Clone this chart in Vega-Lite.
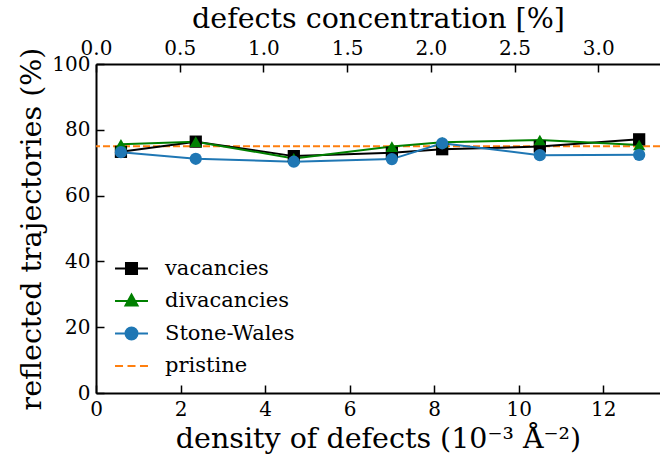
{
  "$schema": "https://vega.github.io/schema/vega-lite/v6.json",
  "width": 564,
  "height": 329,
  "autosize": {"type": "none"},
  "padding": {"left": 96, "top": 64, "right": 0, "bottom": 69},
  "background": "white",
  "config": {
    "view": {"stroke": null},
    "font": "DejaVu Serif",
    "axis": {
      "grid": false,
      "domainColor": "black",
      "domainWidth": 2,
      "tickColor": "black",
      "tickWidth": 1.5,
      "tickSize": -8,
      "labelFont": "DejaVu Serif",
      "labelFontSize": 20,
      "labelColor": "black",
      "labelPadding": 14,
      "labelFlush": false,
      "labelOverlap": false,
      "titleFont": "DejaVu Serif",
      "titleFontSize": 28.5,
      "titleFontWeight": "normal",
      "titleColor": "black",
      "titlePadding": 5
    }
  },
  "datasets": {
    "main": [
      {"series": "vacancies", "density": 0.59, "refl": 73.3},
      {"series": "vacancies", "density": 2.36, "refl": 76.4},
      {"series": "vacancies", "density": 4.68, "refl": 72.0},
      {"series": "vacancies", "density": 7.0, "refl": 73.0},
      {"series": "vacancies", "density": 8.19, "refl": 74.1},
      {"series": "vacancies", "density": 10.5, "refl": 74.9},
      {"series": "vacancies", "density": 12.85, "refl": 77.1},
      {"series": "divacancies", "density": 0.59, "refl": 75.6},
      {"series": "divacancies", "density": 2.36, "refl": 76.4},
      {"series": "divacancies", "density": 4.68, "refl": 71.3},
      {"series": "divacancies", "density": 7.0, "refl": 74.9},
      {"series": "divacancies", "density": 8.19, "refl": 76.2},
      {"series": "divacancies", "density": 10.5, "refl": 76.9},
      {"series": "divacancies", "density": 12.85, "refl": 75.4},
      {"series": "Stone-Wales", "density": 0.59, "refl": 73.2},
      {"series": "Stone-Wales", "density": 2.36, "refl": 71.2},
      {"series": "Stone-Wales", "density": 4.68, "refl": 70.3},
      {"series": "Stone-Wales", "density": 7.0, "refl": 71.1},
      {"series": "Stone-Wales", "density": 8.19, "refl": 75.9},
      {"series": "Stone-Wales", "density": 10.5, "refl": 72.3},
      {"series": "Stone-Wales", "density": 12.85, "refl": 72.4}
    ],
    "pristine": [{"series": "pristine", "refl": 75.0}],
    "conc": [{"conc": 0}, {"conc": 3.369}]
  },
  "layer": [
    {
      "data": {"name": "main"},
      "encoding": {
        "x": {
          "field": "density",
          "type": "quantitative",
          "scale": {"domain": [0, 13.343], "nice": false, "zero": false},
          "axis": {
            "orient": "bottom",
            "values": [0, 2, 4, 6, 8, 10, 12],
            "title": "density of defects (10⁻³ Å⁻²)"
          }
        },
        "y": {
          "field": "refl",
          "type": "quantitative",
          "scale": {"domain": [0, 100], "nice": false},
          "axis": {
            "values": [0, 20, 40, 60, 80, 100],
            "title": "reflected trajectories (%)"
          }
        },
        "color": {
          "field": "series",
          "type": "nominal",
          "scale": {
            "domain": ["vacancies", "divacancies", "Stone-Wales", "pristine"],
            "range": ["#000000", "#008000", "#1f77b4", "#ff7f0e"]
          },
          "legend": {
            "orient": "none",
            "legendX": 25,
            "legendY": 194,
            "title": null,
            "padding": 0,
            "labelFont": "DejaVu Serif",
            "labelFontSize": 21,
            "labelColor": "black",
            "symbolSize": 256,
            "labelOffset": 23,
            "rowPadding": 10.5,
            "symbolStrokeWidth": 2,
            "encode": {
              "symbols": {
                "update": {
                  "shape": {"signal": "datum.value === 'vacancies' ? 'M-2.06,0H2.06M-0.69,-0.69H0.69V0.69H-0.69Z' : datum.value === 'divacancies' ? 'M-2.06,0H2.06M0,-0.8L0.75,0.55H-0.75Z' : datum.value === 'Stone-Wales' ? 'M-2.06,0H2.06M-0.75,0A0.75,0.75,0,1,0,0.75,0A0.75,0.75,0,1,0,-0.75,0Z' : 'M-2.06,0H-1.06M-0.5,0H0.5M1.06,0H2.06'"},
                  "fill": {"signal": "datum.value === 'vacancies' ? '#000000' : datum.value === 'divacancies' ? '#008000' : datum.value === 'Stone-Wales' ? '#1f77b4' : 'transparent'"},
                  "stroke": {"signal": "datum.value === 'vacancies' ? '#000000' : datum.value === 'divacancies' ? '#008000' : datum.value === 'Stone-Wales' ? '#1f77b4' : '#ff7f0e'"},
                  "strokeWidth": {"value": 2},
                  "opacity": {"value": 1},
                  "fillOpacity": {"value": 1}
                }
              }
            }
          }
        }
      },
      "layer": [
        {
          "data": {"name": "pristine"},
          "mark": {"type": "rule", "strokeWidth": 2, "strokeDash": [7, 3]},
          "encoding": {"x": null}
        },
        {
          "mark": {"type": "line", "strokeWidth": 2}
        },
        {
          "mark": {"type": "point", "filled": true, "opacity": 1, "size": 150},
          "encoding": {
            "shape": {
              "field": "series",
              "type": "nominal",
              "scale": {
                "domain": ["vacancies", "divacancies", "Stone-Wales"],
                "range": ["square", "triangle-up", "circle"]
              },
              "legend": null
            }
          }
        }
      ]
    },
    {
      "data": {"name": "conc"},
      "mark": {"type": "point", "opacity": 0},
      "encoding": {
        "x": {
          "field": "conc",
          "type": "quantitative",
          "scale": {"domain": [0, 3.369], "nice": false, "zero": false},
          "axis": {
            "orient": "top",
            "values": [0, 0.5, 1, 1.5, 2, 2.5, 3],
            "format": ".1f",
            "title": "defects concentration [%]"
          }
        }
      }
    }
  ],
  "resolve": {"scale": {"x": "independent"}}
}
